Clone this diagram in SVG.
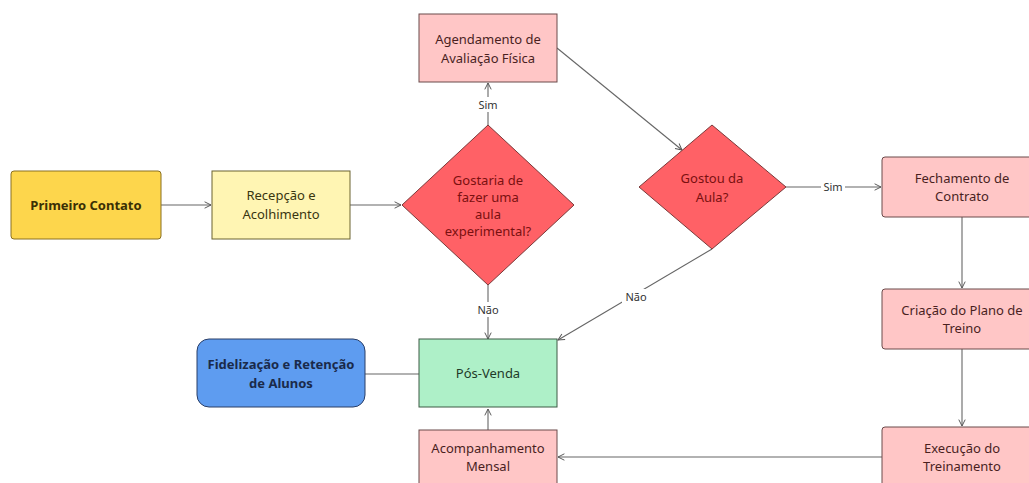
<svg xmlns="http://www.w3.org/2000/svg" width="1029" height="483" viewBox="0 0 1029 483">
<defs>
<marker id="arr" viewBox="0 0 10 10" refX="9" refY="5" markerWidth="8" markerHeight="8" markerUnits="userSpaceOnUse" orient="auto">
<path d="M1,1 L9,5 L1,9" fill="none" stroke="#555" stroke-width="1.2"/>
</marker>
<style>
text{font-family:"Noto Sans","Open Sans",sans-serif;font-size:13px;text-anchor:middle;}
.edge{fill:none;stroke:#666;stroke-width:1.1;}
.lbl{font-size:11px;fill:#333;}
.lblbg{fill:#fff;}
.pink{fill:#FFC6C6;stroke:#6b4a4a;stroke-width:1;}
.pinkt{fill:#4a1f1f;}
.dia{fill:#FF6166;stroke:#7a3a3a;stroke-width:1;}
.diat{fill:#7a1010;}
</style>
</defs>
<rect width="1029" height="483" fill="#fff"/>
<g id="connectors">
<path class="edge" d="M161,205 H211" marker-end="url(#arr)"/>
<path class="edge" d="M350,205 H401" marker-end="url(#arr)"/>
<path class="edge" d="M488,125 V83" marker-end="url(#arr)"/>
<path class="edge" d="M488,285 V339" marker-end="url(#arr)"/>
<path class="edge" d="M557,48 L682,150" marker-end="url(#arr)"/>
<path class="edge" d="M712,249 L558,340" marker-end="url(#arr)"/>
<path class="edge" d="M786,187 H881" marker-end="url(#arr)"/>
<path class="edge" d="M962,217 V288" marker-end="url(#arr)"/>
<path class="edge" d="M962,349 V426" marker-end="url(#arr)"/>
<path class="edge" d="M882,457 H558" marker-end="url(#arr)"/>
<path class="edge" d="M488,430 V409" marker-end="url(#arr)"/>
<path class="edge" d="M365,374 H419"/>
<rect class="lblbg" x="476" y="97" width="24" height="15"/>
<text class="lbl" x="488" y="109">Sim</text>
<rect class="lblbg" x="475" y="302" width="26" height="15"/>
<text class="lbl" x="488" y="314">Não</text>
<rect class="lblbg" x="622" y="289" width="28" height="15"/>
<text class="lbl" x="636" y="301">Não</text>
<rect class="lblbg" x="821" y="180" width="24" height="15"/>
<text class="lbl" x="833" y="191">Sim</text>
</g>
<g id="primeiro-contato">
<rect x="11" y="171" width="150" height="68" rx="3" fill="#FDD64C" stroke="#8a7020" stroke-width="1"/>
<text x="86" y="210" font-weight="bold" fill="#3a2f05">Primeiro Contato</text>
</g>
<g id="recepcao">
<rect x="212" y="171" width="138" height="68" fill="#FFF5B3" stroke="#6b6330" stroke-width="1"/>
<text x="281" y="200" fill="#3a3510">Recepção e</text>
<text x="281" y="219" fill="#3a3510">Acolhimento</text>
</g>
<g id="gostaria">
<path class="dia" d="M488,125 L574,205 L488,285 L402,205 Z"/>
<text class="diat" x="488" y="185">Gostaria de</text>
<text class="diat" x="488" y="202">fazer uma</text>
<text class="diat" x="488" y="219">aula</text>
<text class="diat" x="488" y="236">experimental?</text>
</g>
<g id="agendamento">
<rect class="pink" x="419" y="14" width="138" height="68"/>
<text class="pinkt" x="488" y="44">Agendamento de</text>
<text class="pinkt" x="488" y="63">Avaliação Física</text>
</g>
<g id="gostou">
<path class="dia" d="M712,125 L786,187 L712,249 L639,187 Z" stroke-linejoin="round"/>
<text class="diat" x="712" y="183">Gostou da</text>
<text class="diat" x="712" y="202">Aula?</text>
</g>
<g id="fechamento">
<rect class="pink" x="882" y="157" width="150" height="60" rx="3"/>
<text class="pinkt" x="962" y="183">Fechamento de</text>
<text class="pinkt" x="962" y="201">Contrato</text>
</g>
<g id="criacao">
<rect class="pink" x="882" y="289" width="150" height="60" rx="3"/>
<text class="pinkt" x="962" y="315">Criação do Plano de</text>
<text class="pinkt" x="962" y="333">Treino</text>
</g>
<g id="execucao">
<rect class="pink" x="882" y="427" width="150" height="60" rx="3"/>
<text class="pinkt" x="962" y="453">Execução do</text>
<text class="pinkt" x="962" y="471">Treinamento</text>
</g>
<g id="acompanhamento">
<rect class="pink" x="419" y="430" width="138" height="60"/>
<text class="pinkt" x="488" y="453">Acompanhamento</text>
<text class="pinkt" x="488" y="471">Mensal</text>
</g>
<g id="pos-venda">
<rect x="419" y="339" width="138" height="68" fill="#AEF0C8" stroke="#3d5a45" stroke-width="1"/>
<text x="488" y="378" fill="#1f3a28">Pós-Venda</text>
</g>
<g id="fidelizacao">
<rect x="197" y="339" width="168" height="68" rx="12" fill="#5E9CF0" stroke="#2a3e66" stroke-width="1"/>
<text x="281" y="369" font-weight="bold" fill="#1a2a4a">Fidelização e Retenção</text>
<text x="281" y="388" font-weight="bold" fill="#1a2a4a">de Alunos</text>
</g>
</svg>
